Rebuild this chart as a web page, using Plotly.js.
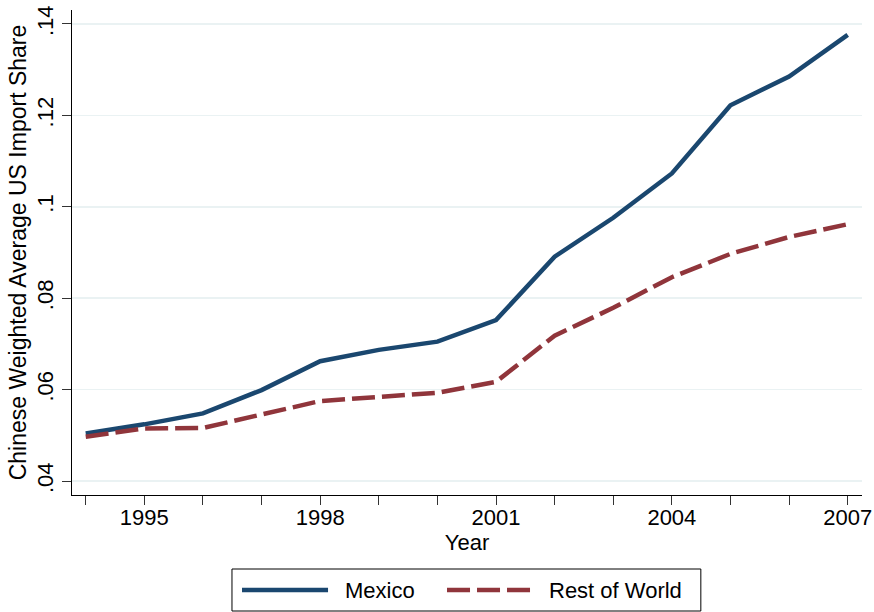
<!DOCTYPE html>
<html>
<head>
<meta charset="utf-8">
<script src="https://cdn.plot.ly/plotly-3.0.1.min.js"></script>
<style>html,body{margin:0;padding:0;background:#fff;}#chart{width:874px;height:612px;}</style>
</head>
<body>
<div id="chart"></div>
<script>
const years = [1994,1995,1996,1997,1998,1999,2000,2001,2002,2003,2004,2005,2006,2007];
const mexico = [0.0504,0.0524,0.0548,0.0599,0.0662,0.0687,0.0705,0.0752,0.0891,0.0976,0.1073,0.1222,0.1285,0.1376];
const restOfWorld = [0.0497,0.0515,0.0516,0.0546,0.0575,0.0584,0.0593,0.0617,0.0718,0.0779,0.0846,0.0897,0.0934,0.0962];
const xTickVals = years;
const xTickText = ['','1995','','','1998','','','2001','','','2004','','','2007'];
const yTickVals = [0.04,0.06,0.08,0.10,0.12,0.14];
const yTickText = ['.04','.06','.08','.1','.12','.14'];
const seriesNames = ['Mexico','Rest of World'];
const colors = ['#1a476f','#90353b'];

const font = 'Liberation Sans, Arial, Helvetica, sans-serif';
const traces = [
  {x: years, y: mexico, name: seriesNames[0], type: 'scatter', mode: 'lines',
   line: {color: colors[0], width: 4.5}},
  {x: years, y: restOfWorld, name: seriesNames[1], type: 'scatter', mode: 'lines',
   line: {color: colors[1], width: 4.5, dash: '23px,7px'}}
];

// custom legend (Stata style) in paper coordinates
const lgY = -0.196;
const shapes = [
  {type: 'rect', xref: 'paper', yref: 'paper', x0: 0.2025, x1: 0.796, y0: -0.2392, y1: -0.1526,
   line: {color: '#000', width: 1}, fillcolor: 'rgba(0,0,0,0)'},
  {type: 'line', xref: 'paper', yref: 'paper', x0: 0.2152, x1: 0.3241, y0: lgY, y1: lgY,
   line: {color: colors[0], width: 4.5}},
  {type: 'line', xref: 'paper', yref: 'paper', x0: 0.4747, x1: 0.5823, y0: lgY, y1: lgY,
   line: {color: colors[1], width: 4.5, dash: '23px,7px'}}
];
const annotations = [
  {xref: 'paper', yref: 'paper', x: 0.343, y: lgY, xanchor: 'left', yanchor: 'middle',
   text: seriesNames[0], showarrow: false, font: {family: font, size: 22, color: '#000'}},
  {xref: 'paper', yref: 'paper', x: 0.6013, y: lgY, xanchor: 'left', yanchor: 'middle',
   text: seriesNames[1], showarrow: false, font: {family: font, size: 22, color: '#000'}}
];

const layout = {
  width: 874, height: 612,
  margin: {l: 72, r: 12, t: 10, b: 117},
  paper_bgcolor: '#fff', plot_bgcolor: '#fff',
  showlegend: false,
  font: {family: font, size: 22, color: '#000'},
  xaxis: {
    range: [1993.766, 2007.244],
    tickvals: xTickVals, ticktext: xTickText,
    ticks: 'outside', ticklen: 9, tickwidth: 1, tickcolor: '#333',
    ticklabelstandoff: -7,
    showline: true, linecolor: '#000', linewidth: 1.3,
    showgrid: false, zeroline: false,
    tickfont: {family: font, size: 22, color: '#000'},
    title: {text: 'Year', font: {family: font, size: 22, color: '#000'}, standoff: 2}
  },
  yaxis: {
    range: [0.03694, 0.14306],
    tickvals: yTickVals, ticktext: yTickText,
    tickangle: -90,
    ticks: 'outside', ticklen: 9, tickwidth: 1, tickcolor: '#333',
    showline: true, linecolor: '#000', linewidth: 1.3,
    showgrid: true, gridcolor: '#eaf2f3', gridwidth: 1.5, zeroline: false,
    tickfont: {family: font, size: 22, color: '#000'},
    title: {text: 'Chinese Weighted Average US Import Share', font: {family: font, size: 23, color: '#000'}, standoff: 0}
  },
  shapes: shapes,
  annotations: annotations
};

Plotly.newPlot('chart', traces, layout, {displayModeBar: false, staticPlot: true});
</script>
</body>
</html>
